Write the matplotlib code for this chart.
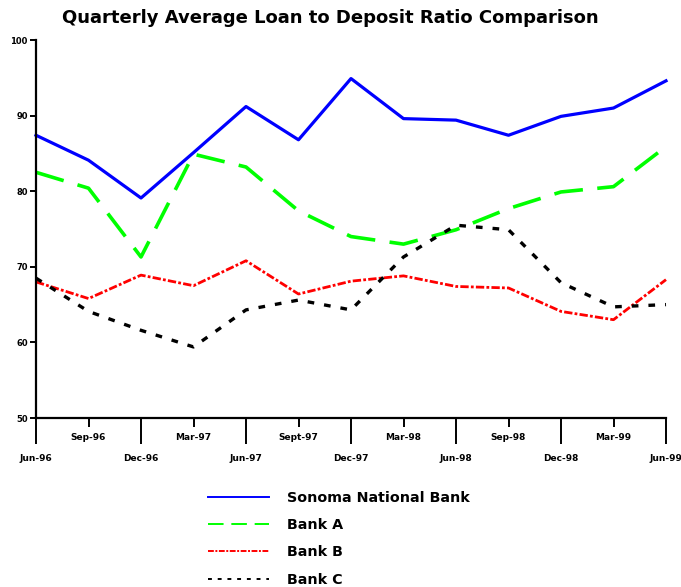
import matplotlib
matplotlib.use("Agg")
import matplotlib.pyplot as plt
from matplotlib.ticker import FixedLocator

plt.rcParams["font.family"] = ["DejaVu Sans"]
plt.rcParams["font.weight"] = "bold"

# quarters along the x axis
quarters = ["Jun-96", "Sep-96", "Dec-96", "Mar-97", "Jun-97", "Sept-97", "Dec-97",
            "Mar-98", "Jun-98", "Sep-98", "Dec-98", "Mar-99", "Jun-99"]

# loan to deposit ratio (%)
sonoma = [87.4, 84.1, 79.1, 85.1, 91.2, 86.8, 94.9, 89.6, 89.4, 87.4, 89.9, 91.0, 94.6]
bank_a = [82.5, 80.4, 71.3, 84.9, 83.2, 77.4, 74.0, 73.0, 74.9, 77.7, 79.9, 80.6, 85.9]
bank_b = [68.0, 65.8, 68.9, 67.5, 70.8, 66.4, 68.1, 68.8, 67.4, 67.2, 64.1, 63.0, 68.3]
bank_c = [68.5, 64.1, 61.6, 59.4, 64.3, 65.6, 64.3, 71.3, 75.5, 74.9, 67.9, 64.7, 65.0]

y_ticks = [50, 60, 70, 80, 90, 100]

x = list(range(len(quarters)))

fig = plt.figure(figsize=(6.81, 5.87), dpi=100)
ax = fig.add_axes([36 / 681, 169 / 587, 630 / 681, 378 / 587])

ax.plot(x, sonoma, color="#0000ff", lw=2.3, label="Sonoma National Bank", clip_on=False)
ax.plot(x, bank_a, color="#00ff00", lw=2.6, ls=(0, (8, 4)), label="Bank A", clip_on=False)
ax.plot(x, bank_b, color="#ff0000", lw=2.0, ls=(0, (3, 0.8, 1, 0.8)), label="Bank B", clip_on=False)
ax.plot(x, bank_c, color="black", lw=2.4, ls=(0, (2, 3)), label="Bank C", clip_on=False)

ax.set_xlim(0, 12)
ax.set_ylim(50, 100)

for side in ["top", "right"]:
    ax.spines[side].set_visible(False)
for side in ["left", "bottom"]:
    ax.spines[side].set_linewidth(1.6)

ax.set_yticks(y_ticks)
ax.set_yticklabels([str(v) for v in y_ticks], fontsize=6, fontweight="bold")
ax.tick_params(axis="y", length=4, width=1.4, pad=2)

major_idx = x[0::2]
minor_idx = x[1::2]
ax.xaxis.set_major_locator(FixedLocator(major_idx))
ax.xaxis.set_minor_locator(FixedLocator(minor_idx))
ax.set_xticklabels([quarters[i] for i in major_idx], fontsize=6.5, fontweight="bold")
ax.set_xticklabels([quarters[i] for i in minor_idx], minor=True, fontsize=6.5, fontweight="bold")
ax.tick_params(axis="x", which="major", length=19, width=1.4, pad=7)
ax.tick_params(axis="x", which="minor", length=6.5, width=1.4, pad=4)

fig.text(330 / 681, 1 - 18 / 587, "Quarterly Average Loan to Deposit Ratio Comparison",
         ha="center", va="center", fontsize=13, fontweight="bold")

leg_prop = {"weight": "bold", "size": 10.3}
leg = fig.legend(loc="upper left", bbox_to_anchor=(195 / 681, 1 - 478 / 587), frameon=False,
                 handlelength=4.3, handletextpad=1.25, labelspacing=0.93, prop=leg_prop)
# legend samples are drawn thinner than the plotted lines
for line in leg.get_lines():
    line.set_linewidth(1.4)

fig.savefig("out.png", dpi=100)
